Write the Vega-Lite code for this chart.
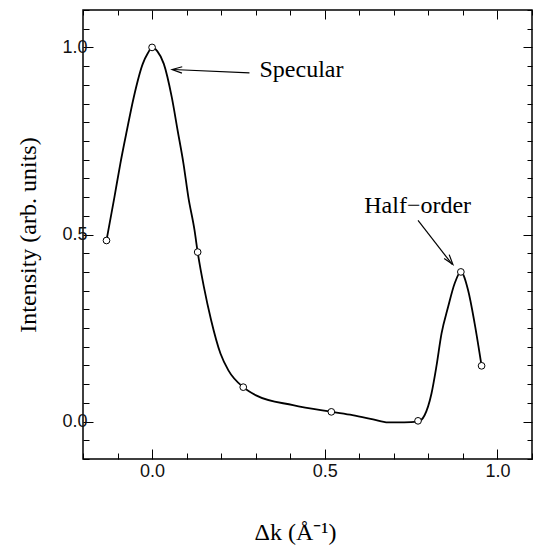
{
  "$schema": "https://vega.github.io/schema/vega-lite/v6.json",
  "width": 449,
  "height": 449,
  "autosize": {"type": "none"},
  "padding": {"left": 83, "top": 10, "right": 3, "bottom": 87},
  "background": "white",
  "config": {
    "view": {"stroke": "black", "strokeWidth": 1.5},
    "axis": {
      "domain": false,
      "grid": false,
      "tickColor": "black",
      "tickWidth": 1,
      "labelFont": "Liberation Sans",
      "labelFontSize": 18,
      "labelColor": "#111111",
      "titleFont": "Liberation Serif",
      "titleFontWeight": "normal",
      "titleFontSize": 24,
      "titleColor": "black"
    }
  },
  "datasets": {
    "curve": [
      {"k": -0.132, "I": 0.484},
      {"k": -0.109, "I": 0.6},
      {"k": -0.092, "I": 0.689},
      {"k": -0.073, "I": 0.778},
      {"k": -0.053, "I": 0.867},
      {"k": -0.027, "I": 0.956},
      {"k": -0.012, "I": 0.985},
      {"k": 0.0, "I": 1.0},
      {"k": 0.015, "I": 0.99},
      {"k": 0.034, "I": 0.956},
      {"k": 0.057, "I": 0.867},
      {"k": 0.074, "I": 0.778},
      {"k": 0.091, "I": 0.689},
      {"k": 0.105, "I": 0.6},
      {"k": 0.123, "I": 0.511},
      {"k": 0.132, "I": 0.453},
      {"k": 0.15, "I": 0.36},
      {"k": 0.171, "I": 0.271},
      {"k": 0.198, "I": 0.182},
      {"k": 0.221, "I": 0.137},
      {"k": 0.264, "I": 0.092},
      {"k": 0.301, "I": 0.07},
      {"k": 0.408, "I": 0.044},
      {"k": 0.519, "I": 0.026},
      {"k": 0.58, "I": 0.017},
      {"k": 0.64, "I": 0.006},
      {"k": 0.683, "I": -0.002},
      {"k": 0.73, "I": -0.002},
      {"k": 0.77, "I": 0.0},
      {"k": 0.789, "I": 0.017},
      {"k": 0.809, "I": 0.075},
      {"k": 0.823, "I": 0.146},
      {"k": 0.838, "I": 0.235},
      {"k": 0.857, "I": 0.306},
      {"k": 0.876, "I": 0.369},
      {"k": 0.894, "I": 0.4},
      {"k": 0.915, "I": 0.351},
      {"k": 0.934, "I": 0.262},
      {"k": 0.954, "I": 0.149}
    ],
    "pts": [
      {"k": -0.132, "I": 0.484},
      {"k": 0.0, "I": 1.0},
      {"k": 0.132, "I": 0.453},
      {"k": 0.264, "I": 0.092},
      {"k": 0.519, "I": 0.026},
      {"k": 0.77, "I": 0.002},
      {"k": 0.894, "I": 0.4},
      {"k": 0.954, "I": 0.149}
    ]
  },
  "resolve": {"axis": {"x": "independent", "y": "independent"}},
  "layer": [
    {
      "data": {"name": "curve"},
      "mark": {"type": "line", "color": "black", "strokeWidth": 1.8, "interpolate": "monotone"},
      "encoding": {
        "x": {
          "field": "k", "type": "quantitative",
          "scale": {"domain": [-0.2, 1.1], "nice": false, "zero": false},
          "axis": {
            "orient": "bottom",
            "title": "Δk (Å⁻¹)",
            "titlePadding": 40,
            "titleX": 212,
            "values": [-0.2, -0.1, 0, 0.1, 0.2, 0.3, 0.4, 0.5, 0.6, 0.7, 0.8, 0.9, 1.0, 1.1],
            "labelExpr": "abs(datum.value*2 - round(datum.value*2)) < 0.001 ? format(datum.value, '.1f') : ''",
            "tickSize": {"condition": {"test": "abs(datum.value*2 - round(datum.value*2)) < 0.001", "value": -10}, "value": -6},
            "labelPadding": 13
          }
        },
        "y": {
          "field": "I", "type": "quantitative",
          "scale": {"domain": [-0.1, 1.1], "nice": false, "zero": false},
          "axis": {
            "orient": "left",
            "title": "Intensity (arb. units)",
            "titlePadding": 21,
            "values": [-0.1, -0.05, 0, 0.05, 0.1, 0.15, 0.2, 0.25, 0.3, 0.35, 0.4, 0.45, 0.5, 0.55, 0.6, 0.65, 0.7, 0.75, 0.8, 0.85, 0.9, 0.95, 1.0, 1.05, 1.1],
            "labelExpr": "abs(datum.value*2 - round(datum.value*2)) < 0.001 ? format(datum.value, '.1f') : ''",
            "tickSize": {"condition": {"test": "abs(datum.value*2 - round(datum.value*2)) < 0.001", "value": -10}, "value": -6},
            "labelPadding": 6
          }
        }
      }
    },
    {
      "data": {"name": "pts"},
      "mark": {"type": "point", "shape": "circle", "filled": true, "fill": "white", "stroke": "black", "strokeWidth": 1, "size": 45, "opacity": 1},
      "encoding": {
        "x": {
          "field": "k", "type": "quantitative",
          "axis": {
            "orient": "top", "title": null, "labels": false,
            "values": [-0.2, -0.1, 0, 0.1, 0.2, 0.3, 0.4, 0.5, 0.6, 0.7, 0.8, 0.9, 1.0, 1.1],
            "tickSize": {"condition": {"test": "abs(datum.value*2 - round(datum.value*2)) < 0.001", "value": -9}, "value": -5}
          }
        },
        "y": {
          "field": "I", "type": "quantitative",
          "axis": {
            "orient": "right", "title": null, "labels": false,
            "values": [-0.1, -0.05, 0, 0.05, 0.1, 0.15, 0.2, 0.25, 0.3, 0.35, 0.4, 0.45, 0.5, 0.55, 0.6, 0.65, 0.7, 0.75, 0.8, 0.85, 0.9, 0.95, 1.0, 1.05, 1.1],
            "tickSize": {"condition": {"test": "abs(datum.value*2 - round(datum.value*2)) < 0.001", "value": -9}, "value": -5}
          }
        }
      }
    },
    {
      "data": {"values": [{"k": 0.282, "I": 0.932, "k2": 0.06, "I2": 0.941}, {"k": 0.77, "I": 0.538, "k2": 0.869, "I2": 0.42}]},
      "mark": {"type": "rule", "color": "black", "strokeWidth": 1.2},
      "encoding": {
        "x": {"field": "k", "type": "quantitative", "axis": null},
        "y": {"field": "I", "type": "quantitative", "axis": null},
        "x2": {"field": "k2"},
        "y2": {"field": "I2"}
      }
    },
    {
      "data": {"values": [{"k": 0.058, "I": 0.941}]},
      "mark": {"type": "point", "shape": "M-1,-0.32L0,0L-1,0.32", "filled": false, "stroke": "black", "strokeWidth": 1.2, "size": 400, "angle": 182.5, "opacity": 1},
      "encoding": {
        "x": {"field": "k", "type": "quantitative", "axis": null},
        "y": {"field": "I", "type": "quantitative", "axis": null}
      }
    },
    {
      "data": {"values": [{"k": 0.871, "I": 0.42}]},
      "mark": {"type": "point", "shape": "M-1,-0.32L0,0L-1,0.32", "filled": false, "stroke": "black", "strokeWidth": 1.2, "size": 400, "angle": 51.5, "opacity": 1},
      "encoding": {
        "x": {"field": "k", "type": "quantitative", "axis": null},
        "y": {"field": "I", "type": "quantitative", "axis": null}
      }
    },
    {
      "data": {"values": [{"k": 0.311, "I": 0.939, "label": "Specular"}]},
      "mark": {"type": "text", "align": "left", "baseline": "middle", "font": "Liberation Serif", "fontSize": 24, "color": "black"},
      "encoding": {
        "x": {"field": "k", "type": "quantitative", "axis": null},
        "y": {"field": "I", "type": "quantitative", "axis": null},
        "text": {"field": "label"}
      }
    },
    {
      "data": {"values": [{"k": 0.769, "I": 0.557, "label": "Half−order"}]},
      "mark": {"type": "text", "align": "center", "baseline": "alphabetic", "font": "Liberation Serif", "fontSize": 24, "color": "black"},
      "encoding": {
        "x": {"field": "k", "type": "quantitative", "axis": null},
        "y": {"field": "I", "type": "quantitative", "axis": null},
        "text": {"field": "label"}
      }
    }
  ]
}
